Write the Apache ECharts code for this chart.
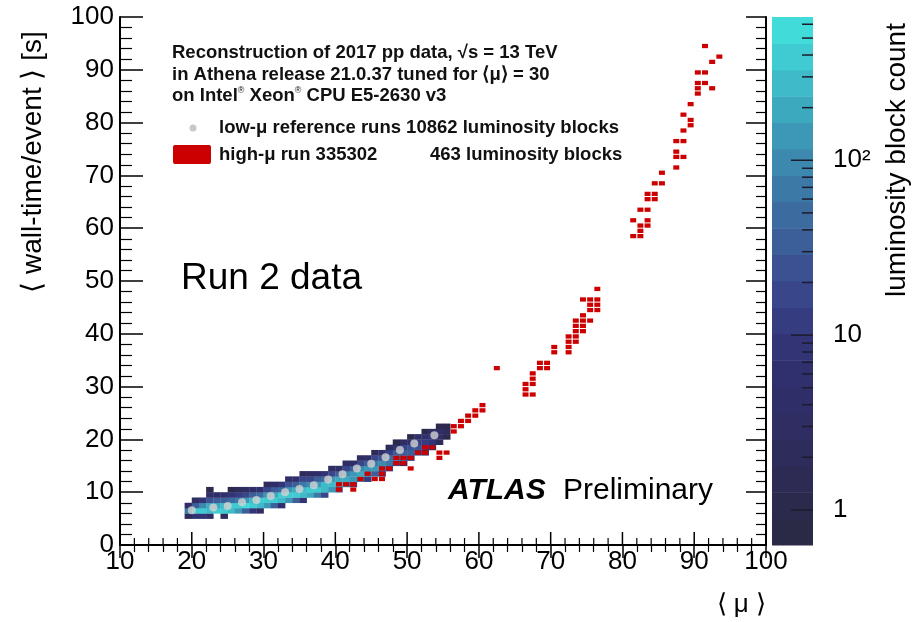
<!DOCTYPE html>
<html style="height: 100%">
<head>
<meta charset="utf-8">
</head>
<body style="height: 100%; margin: 0; background: #fff">
<div id="container" style="width: 922px; height: 622px"></div>
<script src="https://cdn.jsdelivr.net/npm/echarts@6/dist/echarts.min.js"></script>
<script>
var FONT = 'Liberation Sans';

// low-mu reference runs, 2D histogram: [mu bin, wall-time bin, luminosity blocks]
var lowMuCells = [
  [19,5,2],[19,6,60],[19,7,4],
  [20,5,8],[20,6,350],[20,7,40],[20,8,3],
  [21,5,10],[21,6,420],[21,7,90],[21,8,10],
  [22,5,4],[22,6,300],[22,7,200],[22,8,25],[22,9,4],[22,10,1],
  [23,6,450],[23,7,180],[23,8,30],[23,9,5],
  [24,5,2],[24,6,350],[24,7,250],[24,8,40],[24,9,6],
  [25,6,250],[25,7,400],[25,8,50],[25,9,8],[25,10,1],
  [26,6,120],[26,7,450],[26,8,80],[26,9,12],[26,10,2],
  [27,6,30],[27,7,480],[27,8,160],[27,9,20],[27,10,3],
  [28,6,8],[28,7,380],[28,8,260],[28,9,30],[28,10,5],
  [29,6,3],[29,7,250],[29,8,380],[29,9,45],[29,10,6],
  [30,7,120],[30,8,450],[30,9,120],[30,10,20],[30,11,2],
  [31,7,30],[31,8,400],[31,9,220],[31,10,35],[31,11,5],
  [32,7,6],[32,8,260],[32,9,350],[32,10,50],[32,11,8],
  [33,8,120],[33,9,420],[33,10,140],[33,11,25],[33,12,4],
  [34,8,40],[34,9,400],[34,10,220],[34,11,40],[34,12,6],
  [35,8,8],[35,9,300],[35,10,280],[35,11,60],[35,12,15],[35,13,2],
  [36,9,200],[36,10,350],[36,11,90],[36,12,20],[36,13,3],
  [37,9,60],[37,10,380],[37,11,150],[37,12,30],[37,13,5],
  [38,9,15],[38,10,250],[38,11,250],[38,12,50],[38,13,8],
  [39,10,120],[39,11,300],[39,12,120],[39,13,20],[39,14,3],
  [40,10,30],[40,11,220],[40,12,200],[40,13,35],[40,14,5],
  [41,11,90],[41,12,230],[41,13,100],[41,14,20],[41,15,3],
  [42,11,20],[42,12,160],[42,13,160],[42,14,35],[42,15,5],
  [43,12,60],[43,13,180],[43,14,90],[43,15,18],[43,16,3],
  [44,12,12],[44,13,110],[44,14,130],[44,15,30],[44,16,5],
  [45,13,40],[45,14,120],[45,15,70],[45,16,15],[45,17,2],
  [46,13,8],[46,14,60],[46,15,90],[46,16,25],[46,17,4],
  [47,14,20],[47,15,70],[47,16,50],[47,17,12],[47,18,2],
  [48,15,25],[48,16,50],[48,17,30],[48,18,8],[48,19,1],
  [49,15,5],[49,16,25],[49,17,40],[49,18,15],[49,19,3],
  [50,16,10],[50,17,30],[50,18,25],[50,19,7],[50,20,1],
  [51,17,12],[51,18,22],[51,19,12],[51,20,4],
  [52,17,3],[52,18,12],[52,19,14],[52,20,6],[52,21,1],
  [53,18,4],[53,19,8],[53,20,8],[53,21,3],
  [54,19,2],[54,20,5],[54,21,4],[54,22,1],
  [55,20,1],[55,21,2],[55,22,1]
];

// low-mu profile (grey dots)
var profileMu   = [20, 23, 25, 27, 29, 31, 33, 35, 37, 39, 41, 43, 45, 47, 49, 51, 53.8];
var profileTime = [6.6, 7.1, 7.4, 8.1, 8.5, 9.3, 10.0, 10.6, 11.3, 12.4, 13.4, 14.5, 15.4, 16.6, 18.0, 19.2, 20.8];

// high-mu run 335302: filled bins [mu bin, wall-time bin]
var highMuCells = [
  [40,10],[40,11],[41,11],[42,10],[42,11],[43,12],[44,13],[45,12],[46,12],[46,13],[46,14],
  [47,14],[48,15],[48,16],[49,15],[49,16],[50,14],[50,16],[51,17],[52,17],[52,18],[53,18],
  [54,16],[54,17],[55,17],[56,21],[56,22],[57,22],[57,23],[58,23],[58,24],[59,24],[59,25],
  [60,25],[60,26],[62,33],
  [66,28],[66,29],[66,30],[67,28],[67,30],[67,31],[67,32],[68,33],[68,34],[69,33],[69,34],
  [70,36],[70,37],[72,36],[72,37],[72,38],[72,39],[73,38],[73,39],[73,40],[73,41],[73,42],
  [74,40],[74,41],[74,42],[74,43],[74,46],[75,42],[75,44],[75,45],[75,46],[76,44],[76,45],
  [76,46],[76,48],
  [81,58],[81,61],[82,58],[82,59],[82,60],[82,63],[83,60],[83,61],[83,63],[83,65],[83,66],
  [84,65],[84,66],[84,68],[85,68],[85,70],[87,71],[87,73],[87,74],[87,76],[88,73],[88,76],
  [88,78],[88,81],[89,79],[89,80],[89,83],[90,85],[90,86],[90,87],[90,89],[91,87],[91,89],
  [92,86],[92,91],[93,92],[91,94]
];

// axis ticks of the main frame (drawn inside, ROOT style)
var xMajor = [10, 20, 30, 40, 50, 60, 70, 80, 90, 100];
var xMinor = [12, 14, 16, 18, 22, 24, 26, 28, 32, 34, 36, 38, 42, 44, 46, 48, 52, 54, 56, 58,
              62, 64, 66, 68, 72, 74, 76, 78, 82, 84, 86, 88, 92, 94, 96, 98];

// colour bar (log scale, 20 contours)
var cbMin = 0.63, cbMax = 660;
var palette = [
  '#2b2a46','#2c2a4c','#2d2b53','#2e2c5a','#2f2d61','#302e68','#31306f','#333476',
  '#363c80','#39468a','#3b5192','#3c5e99','#3c6ba0','#3c79a7','#3c88ae','#3c98b6',
  '#3da9bf','#3ebac8','#3fcbd1','#41dcda'
];
var cbTicks = [1,2,3,4,5,6,7,8,9,10,20,30,40,50,60,70,80,90,100,200,300,400,500,600];
var cbLabels = [[1,'1'],[10,'10'],[100,'10²']];

function cellColor(c) {
  var t = (Math.log(c) - Math.log(cbMin)) / (Math.log(cbMax) - Math.log(cbMin));
  var i = Math.max(0, Math.min(palette.length - 1, Math.floor(t * palette.length)));
  return palette[i];
}
function isDecade(v) {
  var l = Math.log10(v);
  return Math.abs(l - Math.round(l)) < 1e-6;
}

var chart = echarts.init(document.getElementById('container'));

var axisStyle = { color: '#000', width: 2 };
var tickLabel = { color: '#000', fontSize: 26, fontFamily: FONT };
var textFont = 'bold 18.5px ' + FONT;

var option = {
  animation: false,
  backgroundColor: '#fff',
  grid: [
    { left: 120, top: 17, width: 646, height: 528 },
    { left: 772, top: 17, width: 41, height: 528 }
  ],
  xAxis: [
    { gridIndex: 0, type: 'value', min: 10, max: 100, interval: 10, position: 'bottom',
      axisLine: { lineStyle: axisStyle },
      axisTick: { show: false },
      axisLabel: Object.assign({ margin: 4 }, tickLabel),
      splitLine: { show: false } },
    { gridIndex: 0, type: 'value', min: 10, max: 100, interval: 10, position: 'top',
      axisLine: { lineStyle: axisStyle },
      axisTick: { inside: true, length: 13, lineStyle: { color: '#000', width: 1.5 } },
      minorTick: { show: true, splitNumber: 5, length: 7, lineStyle: { color: '#000', width: 1.2 } },
      axisLabel: { show: false }, splitLine: { show: false } },
    { gridIndex: 1, type: 'value', min: 0, max: 1, show: false }
  ],
  yAxis: [
    { gridIndex: 0, type: 'value', min: 0, max: 100, interval: 10, position: 'left',
      axisLine: { lineStyle: axisStyle },
      axisTick: { inside: true, length: 23, lineStyle: { color: '#000', width: 1.5 } },
      minorTick: { show: true, splitNumber: 5, length: 12, lineStyle: { color: '#000', width: 1.2 } },
      axisLabel: Object.assign({ margin: 6 }, tickLabel),
      splitLine: { show: false } },
    { gridIndex: 0, type: 'value', min: 0, max: 100, interval: 10, position: 'right',
      axisLine: { lineStyle: axisStyle },
      axisTick: { inside: true, length: 20, lineStyle: { color: '#000', width: 1.5 } },
      minorTick: { show: true, splitNumber: 5, length: 10, lineStyle: { color: '#000', width: 1.2 } },
      axisLabel: { show: false }, splitLine: { show: false } },
    { gridIndex: 1, type: 'log', logBase: 10, min: cbMin, max: cbMax, show: false }
  ],
  series: [
    {
      name: 'low-mu', type: 'custom', xAxisIndex: 0, yAxisIndex: 0, clip: true,
      data: lowMuCells,
      renderItem: function (params, api) {
        var mu = api.value(0), t = api.value(1), c = api.value(2);
        var p0 = api.coord([mu, t + 1]);
        var p1 = api.coord([mu + 1, t]);
        return { type: 'rect',
          shape: { x: p0[0], y: p0[1], width: p1[0] - p0[0] + 0.3, height: p1[1] - p0[1] + 0.3 },
          style: { fill: cellColor(c) } };
      }
    },
    {
      name: 'high-mu', type: 'custom', xAxisIndex: 0, yAxisIndex: 0, clip: true,
      data: highMuCells,
      renderItem: function (params, api) {
        var mu = api.value(0), t = api.value(1);
        var p0 = api.coord([mu, t + 1]);
        var p1 = api.coord([mu + 1, t]);
        return { type: 'rect',
          shape: { x: p0[0] + 0.6, y: p0[1] + 0.5, width: p1[0] - p0[0] - 1.2, height: p1[1] - p0[1] - 1 },
          style: { fill: '#cc0000' } };
      }
    },
    {
      name: 'profile', type: 'scatter', xAxisIndex: 0, yAxisIndex: 0,
      data: profileMu.map(function (m, i) { return [m, profileTime[i]]; }),
      symbol: 'circle', symbolSize: 8,
      itemStyle: { color: '#d2d2d2' }
    },
    {
      name: 'x-ticks', type: 'custom', xAxisIndex: 0, yAxisIndex: 0, clip: false,
      data: xMajor.map(function (v) { return [v, 1]; }).concat(xMinor.map(function (v) { return [v, 0]; })),
      renderItem: function (params, api) {
        var p = api.coord([api.value(0), 0]);
        var len = api.value(1) ? 13 : 7;
        return { type: 'line',
          shape: { x1: p[0], y1: p[1], x2: p[0], y2: p[1] - len },
          style: { stroke: '#000', lineWidth: api.value(1) ? 1.5 : 1.2 } };
      }
    },
    {
      name: 'colorbar', type: 'custom', xAxisIndex: 2, yAxisIndex: 2,
      data: palette.map(function (c, i) { return [i]; }),
      renderItem: function (params, api) {
        var i = api.value(0), n = palette.length;
        var lo = cbMin * Math.pow(cbMax / cbMin, i / n);
        var hi = cbMin * Math.pow(cbMax / cbMin, (i + 1) / n);
        var p0 = api.coord([0, hi]);
        var p1 = api.coord([1, lo]);
        return { type: 'rect',
          shape: { x: p0[0], y: p0[1], width: p1[0] - p0[0], height: p1[1] - p0[1] + 0.5 },
          style: { fill: palette[i] } };
      }
    },
    {
      name: 'colorbar-ticks', type: 'custom', xAxisIndex: 2, yAxisIndex: 2,
      data: cbTicks.map(function (v) { return [1, v]; }),
      renderItem: function (params, api) {
        var v = api.value(1);
        var p = api.coord([1, v]);
        var len = isDecade(v) ? 22 : 11;
        return { type: 'line',
          shape: { x1: p[0], y1: p[1], x2: p[0] - len, y2: p[1] },
          style: { stroke: '#1c1c2c', lineWidth: 1.5 } };
      }
    },
    {
      name: 'colorbar-labels', type: 'custom', xAxisIndex: 2, yAxisIndex: 2,
      data: cbLabels.map(function (d) { return [1, d[0]]; }),
      renderItem: function (params, api) {
        var p = api.coord([1, api.value(1)]);
        return { type: 'text', x: p[0] + 20, y: p[1],
          style: { text: cbLabels[params.dataIndex][1], fill: '#000',
            font: '26px ' + FONT, align: 'left', verticalAlign: 'middle' } };
      }
    }
  ],
  graphic: [
    { type: 'text', left: 172, top: 43, style: { text: 'Reconstruction of 2017 pp data, √s = 13 TeV',
      font: textFont, fill: '#111' } },
    { type: 'text', left: 172, top: 65, style: { text: 'in Athena release 21.0.37 tuned for ⟨μ⟩ = 30',
      font: textFont, fill: '#111' } },
    { type: 'text', left: 172, top: 86, style: { text: 'on Intel{s|®} Xeon{s|®} CPU E5-2630 v3',
      font: textFont, fill: '#111',
      rich: { s: { font: '9px ' + FONT, fill: '#111', verticalAlign: 'top', padding: [0, 0, 9, 0] } } } },
    { type: 'circle', shape: { cx: 193, cy: 128, r: 3.5 }, style: { fill: '#c8c8c8' } },
    { type: 'text', left: 219, top: 118, style: { text: 'low-μ reference runs 10862 luminosity blocks',
      font: textFont, fill: '#111' } },
    { type: 'rect', shape: { x: 173, y: 145, width: 38, height: 19, r: 2 }, style: { fill: '#cc0000' } },
    { type: 'text', left: 219, top: 145, style: { text: 'high-μ run 335302',
      font: textFont, fill: '#111' } },
    { type: 'text', left: 430, top: 145, style: { text: '463 luminosity blocks',
      font: textFont, fill: '#111' } },
    { type: 'text', left: 181, top: 260, style: { text: 'Run 2 data',
      font: '37px ' + FONT, fill: '#000' } },
    { type: 'text', left: 448, top: 476, style: { text: 'ATLAS',
      font: 'italic bold 30px ' + FONT, fill: '#000' } },
    { type: 'text', left: 563, top: 476, style: { text: 'Preliminary',
      font: '30px ' + FONT, fill: '#000' } },
    { type: 'text', x: 33, y: 162, rotation: Math.PI / 2,
      style: { text: '⟨ wall-time/event ⟩ [s]', font: '28px ' + FONT, fill: '#000',
        align: 'center', verticalAlign: 'middle' } },
    { type: 'text', x: 897, y: 160, rotation: Math.PI / 2,
      style: { text: 'luminosity block count', font: '28px ' + FONT, fill: '#000',
        align: 'center', verticalAlign: 'middle' } },
    { type: 'text', x: 766, y: 605,
      style: { text: '⟨ μ ⟩', font: '26px ' + FONT, fill: '#000',
        align: 'right', verticalAlign: 'middle' } }
  ]
};

chart.setOption(option);
</script>
</body>
</html>
